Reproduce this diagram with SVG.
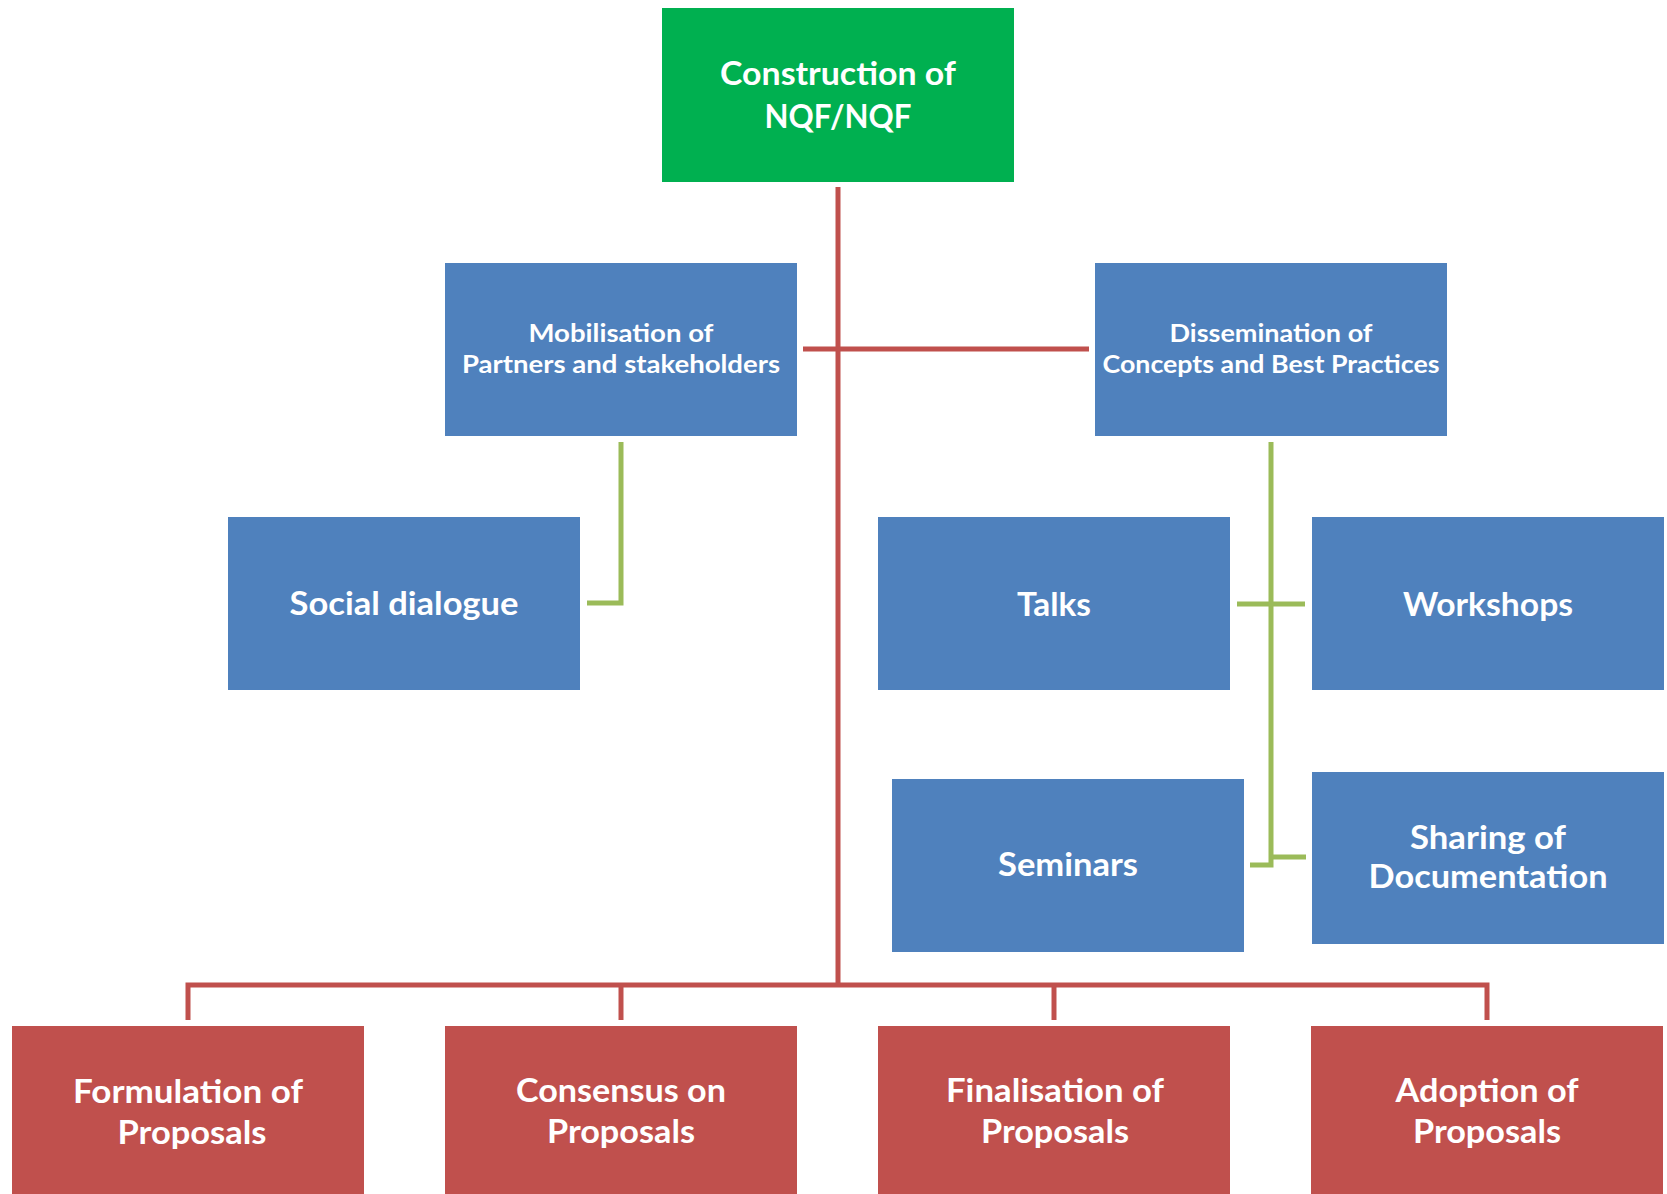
<svg xmlns="http://www.w3.org/2000/svg" width="1667" height="1194" viewBox="0 0 1667 1194">
<style>
.t{font-family:Lato,"Open Sans","Liberation Sans",sans-serif;font-weight:700;fill:#fff;text-anchor:middle}
.big{font-size:32px}
.mid{font-size:25px}
.blue{fill:#4F81BD}
.red{fill:#C0504D}
.green{fill:#00B050}
.rl{fill:none;stroke:#C0504D;stroke-width:5}
.gl{fill:none;stroke:#9BBB59;stroke-width:5}
</style>
<rect width="1667" height="1194" fill="#fff"/>
<g id="connectors">
<path class="rl" d="M838,187 V985"/>
<path class="rl" d="M803,349 H1089"/>
<path class="rl" d="M188,1020 V985 H1487 V1020"/>
<path class="rl" d="M621,985 V1020"/>
<path class="rl" d="M1054,985 V1020"/>
<path class="gl" d="M621,442 V603 H587"/>
<path class="gl" d="M1271,442 V865 H1250"/>
<path class="gl" d="M1237,604 H1305"/>
<path class="gl" d="M1271,857 H1306"/>
</g>
<g id="n-construction">
<rect class="green" x="662" y="8" width="352" height="174"/>
<text class="t big" x="838" y="85" textLength="236" lengthAdjust="spacingAndGlyphs">Construction of</text>
<text class="t big" x="838" y="128" textLength="147" lengthAdjust="spacingAndGlyphs">NQF/NQF</text>
</g>
<g id="n-mobilisation">
<rect class="blue" x="445" y="263" width="352" height="173"/>
<text class="t mid" x="621" y="342" textLength="185" lengthAdjust="spacingAndGlyphs">Mobilisation of</text>
<text class="t mid" x="621" y="373" textLength="318" lengthAdjust="spacingAndGlyphs">Partners and stakeholders</text>
</g>
<g id="n-dissemination">
<rect class="blue" x="1095" y="263" width="352" height="173"/>
<text class="t mid" x="1271" y="342" textLength="203" lengthAdjust="spacingAndGlyphs">Dissemination of</text>
<text class="t mid" x="1271" y="373" textLength="337" lengthAdjust="spacingAndGlyphs">Concepts and Best Practices</text>
</g>
<g id="n-social">
<rect class="blue" x="228" y="517" width="352" height="173"/>
<text class="t big" x="404" y="615" textLength="229" lengthAdjust="spacingAndGlyphs">Social dialogue</text>
</g>
<g id="n-talks">
<rect class="blue" x="878" y="517" width="352" height="173"/>
<text class="t big" x="1054" y="616" textLength="74" lengthAdjust="spacingAndGlyphs">Talks</text>
</g>
<g id="n-workshops">
<rect class="blue" x="1312" y="517" width="352" height="173"/>
<text class="t big" x="1488" y="616" textLength="170" lengthAdjust="spacingAndGlyphs">Workshops</text>
</g>
<g id="n-seminars">
<rect class="blue" x="892" y="779" width="352" height="173"/>
<text class="t big" x="1068" y="876" textLength="140" lengthAdjust="spacingAndGlyphs">Seminars</text>
</g>
<g id="n-sharing">
<rect class="blue" x="1312" y="772" width="352" height="172"/>
<text class="t big" x="1488" y="849" textLength="156" lengthAdjust="spacingAndGlyphs">Sharing of</text>
<text class="t big" x="1488" y="888" textLength="239" lengthAdjust="spacingAndGlyphs">Documentation</text>
</g>
<g id="n-formulation">
<rect class="red" x="12" y="1026" width="352" height="180"/>
<text class="t big" x="188" y="1103" textLength="230" lengthAdjust="spacingAndGlyphs">Formulation of</text>
<text class="t big" x="192" y="1144" textLength="149" lengthAdjust="spacingAndGlyphs">Proposals</text>
</g>
<g id="n-consensus">
<rect class="red" x="445" y="1026" width="352" height="180"/>
<text class="t big" x="621" y="1102" textLength="210" lengthAdjust="spacingAndGlyphs">Consensus on</text>
<text class="t big" x="621" y="1143" textLength="148" lengthAdjust="spacingAndGlyphs">Proposals</text>
</g>
<g id="n-finalisation">
<rect class="red" x="878" y="1026" width="352" height="180"/>
<text class="t big" x="1055" y="1102" textLength="218" lengthAdjust="spacingAndGlyphs">Finalisation of</text>
<text class="t big" x="1055" y="1143" textLength="148" lengthAdjust="spacingAndGlyphs">Proposals</text>
</g>
<g id="n-adoption">
<rect class="red" x="1311" y="1026" width="352" height="180"/>
<text class="t big" x="1487" y="1102" textLength="183" lengthAdjust="spacingAndGlyphs">Adoption of</text>
<text class="t big" x="1487" y="1143" textLength="148" lengthAdjust="spacingAndGlyphs">Proposals</text>
</g>
</svg>
